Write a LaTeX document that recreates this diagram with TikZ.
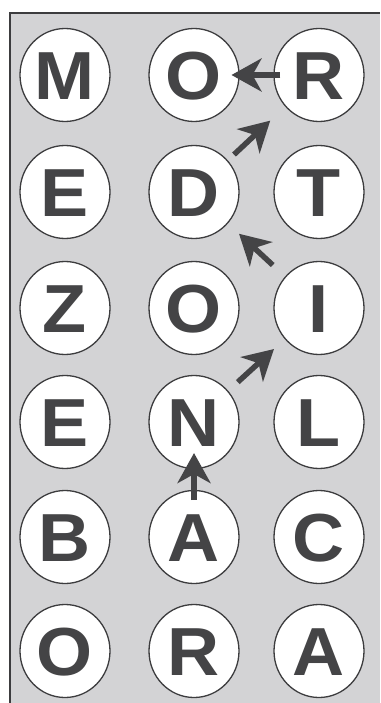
\documentclass[tikz,border=0pt]{standalone}
\usepackage{fontspec}
\setmainfont{Liberation Sans}
\newfontfamily\letterfont{Liberation Sans}[FakeStretch=1.06]
\usetikzlibrary{arrows.meta,calc,shapes.geometric}
\definecolor{bg}{RGB}{211,211,213}
\definecolor{ink}{RGB}{68,68,70}
\definecolor{rim}{RGB}{60,60,62}
\begin{document}
\begin{tikzpicture}[x=1pt,y=-1pt,
  letter/.style={ellipse,draw=rim,line width=1.3pt,fill=white,minimum width=90pt,minimum height=93pt,inner sep=0pt,
    text=ink,font=\letterfont\fontsize{68}{68}\selectfont\bfseries,text height=48.7pt,text depth=0pt},
  move/.style={draw=ink,line width=5.5pt,-{Stealth[length=30pt,width=33pt,inset=9pt]}}]
\useasboundingbox (0,0) rectangle (380,703);
\fill[bg] (10,13) rectangle (380,703);
\draw[rim,line width=2pt] (10,703) -- (10,13) -- (380,13);
% row 1
\node[letter] (M1) at (65,75) {M};
\node[letter] (O1) at (194,75) {O};
\node[letter] (R1) at (319,75) {R};
% row 2
\node[letter] (E2) at (65,192) {E};
\node[letter] (D2) at (194,192) {D};
\node[letter] (T2) at (319,192) {T};
% row 3
\node[letter] (Z3) at (65,308) {Z};
\node[letter] (O3) at (194,308) {O};
\node[letter] (I3) at (319,308) {I};
% row 4
\node[letter] (E4) at (65,422) {E};
\node[letter] (N4) at (194,422) {N};
\node[letter] (L4) at (319,422) {L};
% row 5
\node[letter] (B5) at (65,537) {B};
\node[letter] (A5) at (194,537) {A};
\node[letter] (C5) at (319,537) {C};
% row 6
\node[letter] (O6) at (65,651) {O};
\node[letter] (R6) at (194,651) {R};
\node[letter] (A6) at (319,651) {A};
% arrows
\draw[move] ($(A5)!0.32!(N4)$) -- ($(A5)!0.73!(N4)$);
\draw[move] ($(N4)!0.35!(I3)$) -- ($(N4)!0.64!(I3)$);
\draw[move] ($(I3)!0.37!(D2)$) -- ($(I3)!0.64!(D2)$);
\draw[move] ($(D2)!0.32!(R1)$) -- ($(D2)!0.61!(R1)$);
\draw[move] ($(R1)!0.31!(O1)$) -- ($(R1)!0.70!(O1)$);
\end{tikzpicture}
\end{document}
